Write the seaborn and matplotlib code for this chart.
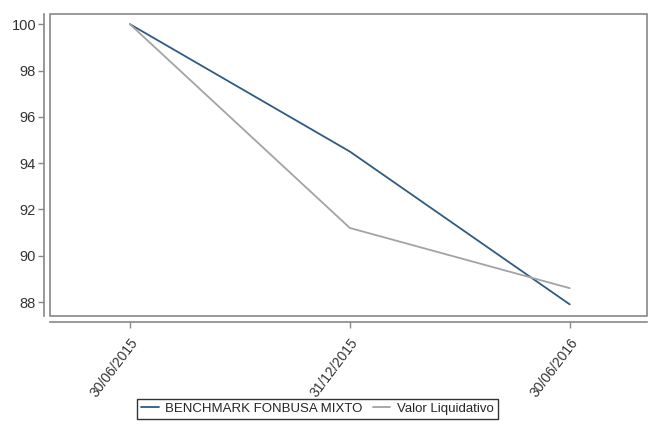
import pandas as pd
import seaborn as sns
import matplotlib
matplotlib.use('Agg')
import matplotlib.pyplot as plt
import matplotlib.patches as mpatches

# Data
dates = ['30/06/2015', '31/12/2015', '30/06/2016']
benchmark = [100.0, 94.5, 87.9]
valor = [100.0, 91.2, 88.6]
series_names = ['BENCHMARK FONBUSA MIXTO', 'Valor Liquidativo']
yticks = [88, 90, 92, 94, 96, 98, 100]

df = pd.DataFrame({
    'fecha': dates * 2,
    'pos': list(range(len(dates))) * 2,
    'valor': benchmark + valor,
    'serie': [series_names[0]] * 3 + [series_names[1]] * 3,
})

sns.set_style('white')
plt.rcParams['font.family'] = ['Liberation Sans', 'DejaVu Sans']

fig = plt.figure(figsize=(6.48, 4.45), dpi=100)
ax = fig.add_axes([0.077, 0.29, 0.921, 0.678])

sns.lineplot(data=df, x='pos', y='valor', hue='serie',
             palette={series_names[0]: '#2f5b82', series_names[1]: '#a3a3a3'},
             linewidth=1.3, ax=ax, legend=False)

ax.set_xlim(-0.364, 2.35)
ax.set_ylim(87.4, 100.43)
ax.set_xlabel('')
ax.set_ylabel('')

# outer axis lines offset from the box
for side in ['top', 'right']:
    ax.spines[side].set_visible(False)
for side in ['left', 'bottom']:
    ax.spines[side].set_position(('outward', 4))
    ax.spines[side].set_color('#888888')
    ax.spines[side].set_linewidth(1.2)
ax.spines['bottom'].set_bounds(-0.364, 2.35)
ax.tick_params(axis='both', length=4, width=1, color='#888888', direction='out',
               bottom=True, left=True, pad=2)
ax.tick_params(axis='x', pad=6)

ax.set_yticks(yticks)
ax.set_yticklabels([str(v) for v in yticks], fontsize=10.5, color='#333333')
ax.set_xticks(range(len(dates)))
ax.set_xticklabels(dates, fontsize=10, color='#333333', rotation=53,
                   ha='right', va='top', rotation_mode='anchor')

box = mpatches.Rectangle((0, 0), 1, 1, transform=ax.transAxes, fill=False,
                         edgecolor='#888888', linewidth=1.2, clip_on=False)
ax.add_patch(box)

handles = [plt.Line2D([], [], color='#2f5b82', linewidth=1.3),
           plt.Line2D([], [], color='#a3a3a3', linewidth=1.3)]
leg = fig.legend(handles, series_names, loc='center', bbox_to_anchor=(0.49, 0.081),
                 ncol=2, frameon=True, fancybox=False, fontsize=9.5,
                 handlelength=1.3, handletextpad=0.5, columnspacing=0.8,
                 borderpad=0.3)
leg.get_frame().set_edgecolor('black')
leg.get_frame().set_linewidth(1.0)

plt.savefig('out.png', dpi=100)
